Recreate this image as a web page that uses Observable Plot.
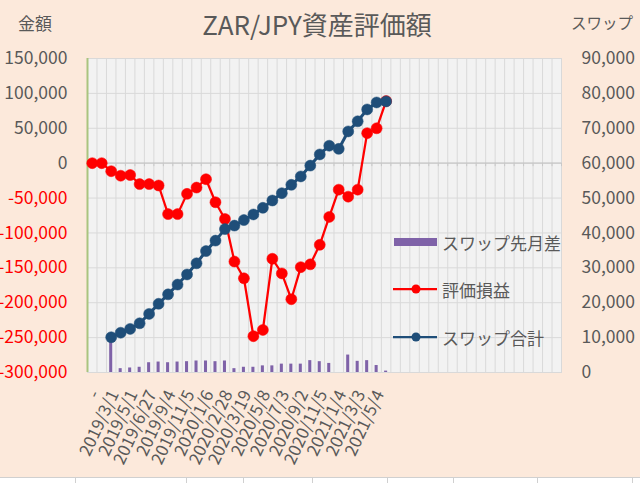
<!DOCTYPE html>
<html>
<head>
<meta charset="utf-8">
<script src="https://cdn.jsdelivr.net/npm/d3@7"></script>
<script src="https://cdn.jsdelivr.net/npm/@observablehq/plot@0.6"></script>
<style>
  html, body { margin: 0; padding: 0; overflow: hidden; }
  body { width: 640px; height: 483px; position: relative; background: #FCE9DB;
         font-family: "Noto Sans CJK JP", "Noto Sans", sans-serif; color: #595959; }
  #header { position: relative; height: 40px; }
  .hd { position: absolute; white-space: nowrap; }
  #chart { position: absolute; left: 0; top: 40px; }
  #footer { position: absolute; left: 0; top: 477px; width: 640px; height: 6px; background: #fff; border-top: 1px solid #D0D0D0; }
  .cell { position: absolute; top: 0; width: 1px; height: 6px; background: #D0D0D0; }
  .legend { position: absolute; display: flex; align-items: center; font-size: 17px; color: #595959; white-space: nowrap; }
</style>
</head>
<body>
<div id="header">
  <div class="hd" style="left:18px; top:10px; font-size:17px;">金額</div>
  <div class="hd" style="left:0; width:634px; text-align:center; top:5px; font-size:26px;">ZAR/JPY資産評価額</div>
  <div class="hd" style="left:571px; top:11px; font-size:15.5px;">スワップ</div>
</div>
<div id="chart"></div>
<div id="footer"></div>
<div id="legend"></div>
<script>
// ---- data ----
const tickLabels = ["-", "2019/3/1", "2019/5/1", "2019/6/27", "2019/9/4", "2019/11/5", "2020/1/6", "2020/2/28",
  "2020/3/19", "2020/5/8", "2020/7/3", "2020/9/2", "2020/11/5", "2021/1/4", "2021/3/3", "2021/5/4"];
// 評価損益 (left axis)
const valuation = [0, 0, -11500, -18000, -17000, -30000, -30000, -32000, -73000, -73000, -44000, -35000, -23000,
  -56000, -80000, -141000, -165000, -248000, -239000, -137000, -158000, -195000, -149000, -145000, -117000,
  -77000, -38000, -48000, -38000, 43000, 50000, 89000];
// スワップ合計 (right axis)
const swapTotal = [null, null, 10100, 11400, 12500, 14100, 16800, 19700, 22400, 25200, 28100, 31300, 34800, 37800,
  41100, 42100, 43700, 45300, 47200, 49300, 51400, 53800, 56200, 59300, 62500, 65000, 64100, 69100, 72000,
  75400, 77400, 77700];
// スワップ先月差 (right axis)
const swapDiff = [null, null, 10100, 1100, 1300, 1500, 2800, 3000, 2800, 3000, 3100, 3300, 3300, 3100, 3300, 1100,
  1500, 1500, 1900, 1900, 2400, 2400, 2400, 3400, 3100, 2600, -900, 5000, 3200, 3400, 2000, 400, -400];
const categoryCount = 50;
const leftTicks = [-300000, -250000, -200000, -150000, -100000, -50000, 0, 50000, 100000, 150000];

// ---- helpers ----
const ratio = 5, offset = -300000; // right = (left - offset) / ratio
const toLeft = v => v * ratio + offset;
const num = d3.format(",");
const fmt = v => (v < 0 ? "-" : "") + num(Math.abs(v));

const redRows = valuation.map((v, i) => ({i, v}));
const blueRows = swapTotal.map((v, i) => ({i, v})).filter(d => d.v != null);
const barRows = swapDiff.map((v, i) => ({i, v})).filter(d => d.v != null);
const bounds = d3.range(categoryCount + 1).map(i => i - 0.5);

const RED = "#FF0000", BLUE = "#1F4E79", PURPLE = "#7F62A8", GRAY = "#595959";

const chart = Plot.plot({
  width: 640, height: 437,
  marginLeft: 87, marginRight: 79, marginTop: 18, marginBottom: 105,
  style: { background: "transparent", fontFamily: '"Noto Sans CJK JP", "Noto Sans", sans-serif', overflow: "visible" },
  x: { type: "linear", domain: [-0.5, categoryCount - 0.5], axis: null },
  y: { domain: [-300000, 150000], axis: null },
  marks: [
    Plot.frame({ fill: "#F2F2F2", stroke: "#D9D9D9" }),
    Plot.ruleX(bounds, { stroke: "#D9D9D9", strokeWidth: 1 }),
    Plot.ruleY(leftTicks, { stroke: "#D9D9D9", strokeWidth: 1 }),
    Plot.ruleY([0], { stroke: "#C8C8C8", strokeWidth: 1.2 }),
    Plot.ruleX(bounds, { y1: 0, y2: -5000, stroke: "#C8C8C8" }),
    Plot.ruleX([-0.5], { stroke: "#A9C47F", strokeWidth: 2 }),
    Plot.rect(barRows, { x1: d => d.i - 0.16, x2: d => d.i + 0.16, y1: toLeft(0), y2: d => toLeft(d.v), fill: PURPLE, clip: true }),
    Plot.line(redRows, { x: "i", y: "v", stroke: RED, strokeWidth: 2.25 }),
    Plot.dot(redRows, { x: "i", y: "v", r: 5.5, fill: RED, stroke: RED, strokeWidth: 0.5 }),
    Plot.line(blueRows, { x: "i", y: d => toLeft(d.v), stroke: BLUE, strokeWidth: 3 }),
    Plot.dot(blueRows, { x: "i", y: d => toLeft(d.v), r: 5.5, fill: BLUE, stroke: BLUE, strokeWidth: 0.5 }),
    Plot.axisY(leftTicks.filter(v => v >= 0), { anchor: "left", tickSize: 0, tickPadding: 20, fontSize: 17.5, fill: GRAY, tickFormat: fmt, label: null }),
    Plot.axisY(leftTicks.filter(v => v < 0), { anchor: "left", tickSize: 0, tickPadding: 20, fontSize: 17.5, fill: RED, tickFormat: fmt, label: null }),
    Plot.axisY(leftTicks, { anchor: "right", tickSize: 0, tickPadding: 20, fontSize: 17.5, fill: GRAY, tickFormat: v => fmt((v - offset) / ratio), label: null }),
    Plot.axisX(tickLabels.map((_, k) => k * 2), { anchor: "bottom", tickSize: 0, tickPadding: 19, tickRotate: -65, fontSize: 17, fill: GRAY, dx: 3, tickFormat: i => tickLabels[i / 2], label: null })
  ]
});
document.getElementById("chart").appendChild(chart);

// footer cell borders (spreadsheet grid below the chart)
const cellXs = [75, 186, 243, 312, 387, 453, 537, 632];
const footer = document.getElementById("footer");
cellXs.forEach(x => { const c = document.createElement("div"); c.className = "cell"; c.style.left = x + "px"; footer.appendChild(c); });

// legend
const legendItems = [
  { label: "スワップ先月差", type: "bar", color: PURPLE, top: 242 },
  { label: "評価損益", type: "line", color: RED, top: 289 },
  { label: "スワップ合計", type: "line", color: BLUE, top: 337 }
];
const legend = document.getElementById("legend");
legendItems.forEach(it => {
  const div = document.createElement("div");
  div.className = "legend";
  div.style.left = "393px";
  div.style.top = (it.top - 12) + "px";
  div.style.height = "24px";
  const sw = it.type === "bar"
    ? `<svg width="46" height="24"><rect x="1" y="8" width="43" height="8" fill="${it.color}"/></svg>`
    : `<svg width="46" height="24"><line x1="0" x2="44" y1="12" y2="12" stroke="${it.color}" stroke-width="2.25"/><circle cx="23" cy="12" r="4.5" fill="${it.color}"/></svg>`;
  div.innerHTML = sw + `<span style="margin-left:3px">${it.label}</span>`;
  legend.appendChild(div);
});
</script>
</body>
</html>
